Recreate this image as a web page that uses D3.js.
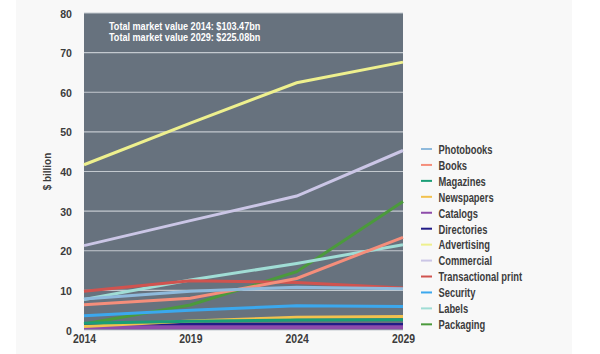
<!DOCTYPE html>
<html>
<head>
<meta charset="utf-8">
<script src="https://cdn.jsdelivr.net/npm/d3@7"></script>
<style>
  body { margin: 0; background: #ffffff; }
  svg text { font-family: "Liberation Sans", Arial, sans-serif; font-weight: 700; }
</style>
</head>
<body>
<div id="chart"></div>
<script>
// data ($ billion)
var years = [2014, 2019, 2024, 2029];
var y_ticks = [0, 10, 20, 30, 40, 50, 60, 70, 80];

var photobooks = [7.8, 9.8, 10.8, 10.4];
var books = [6.4, 8.0, 13.0, 23.4];
var magazines = [1.7, 2.2, 2.5, 2.6];
var newspapers = [0.9, 2.3, 3.2, 3.4];
var catalogs = [0.7, 0.7, 0.7, 0.7];
var directories = [1.1, 1.4, 1.4, 1.4];
var advertising = [41.7, 52.2, 62.4, 67.6];
var commercial = [21.3, 27.6, 33.8, 45.3];
var transactional = [9.8, 12.4, 12.0, 10.6];
var security = [3.6, 5.0, 6.1, 5.9];
var labels = [7.7, 12.6, 16.8, 21.5];
var packaging = [1.5, 6.3, 14.7, 32.4];

var series_names = ["Photobooks", "Books", "Magazines", "Newspapers", "Catalogs", "Directories",
  "Advertising", "Commercial", "Transactional print", "Security", "Labels", "Packaging"];
var series_values = [photobooks, books, magazines, newspapers, catalogs, directories,
  advertising, commercial, transactional, security, labels, packaging];
var series_colors = ["#8fbadc", "#f58e7b", "#1b9e77", "#f2c14e", "#8e4caa", "#211b86",
  "#eef08e", "#cbc6e6", "#d0534f", "#3ba8ee", "#a0ddd5", "#4b9a3c"];

var notes = ["Total market value 2014: $103.47bn", "Total market value 2029: $225.08bn"];

var total_width = 600, total_height = 354;
var margin = {top: 13, right: 197, bottom: 24, left: 84},
    width = total_width - margin.left - margin.right,
    height = total_height - margin.top - margin.bottom;

var text_color = "#3c3c3c";

// squeeze a text horizontally round its own x, to mimic a condensed face
function condense(sel, k) {
  sel.each(function() {
    var t = d3.select(this);
    var tx = +t.attr("x") || 0, ty = +t.attr("y") || 0;
    t.attr("x", 0).attr("y", 0)
     .attr("transform", "translate(" + tx + "," + ty + ") scale(" + k + ",1)");
  });
}

var svg = d3.select("#chart").append("svg")
    .attr("width", total_width)
    .attr("height", total_height);

// light panel behind everything
svg.append("rect")
    .attr("x", 16).attr("y", 0)
    .attr("width", 556).attr("height", total_height)
    .attr("fill", "#f8f8f8");

var g = svg.append("g")
    .attr("transform", "translate(" + margin.left + "," + margin.top + ")");

var x = d3.scaleLinear().domain([2014, 2029]).range([0, width]);
var y = d3.scaleLinear().domain([0, 80]).range([height, 0]);

g.append("rect")
    .attr("width", width).attr("height", height)
    .attr("fill", "#67727e");

// grid lines
g.selectAll(".grid")
  .data(y_ticks)
  .enter().append("line")
    .attr("x1", 0).attr("x2", width)
    .attr("y1", function(d) { return y(d); })
    .attr("y2", function(d) { return y(d); })
    .attr("stroke", "#c3c9cf")
    .attr("stroke-width", 1.2);

// y axis
var yAxis = g.append("g")
    .call(d3.axisLeft(y).tickValues(y_ticks).tickSize(0).tickPadding(12));
yAxis.select(".domain").remove();
yAxis.selectAll("text")
    .attr("fill", text_color)
    .attr("font-weight", "bold")
    .style("font-size", "11.5px")
    .attr("y", 4)
    .attr("dy", null)
    .call(condense, 0.92);

// x axis
var xAxis = g.append("g")
    .attr("transform", "translate(0," + height + ")")
    .call(d3.axisBottom(x).tickValues(years).tickFormat(d3.format("d")).tickSize(0));
xAxis.select(".domain").remove();
xAxis.selectAll("text")
    .attr("fill", text_color)
    .attr("font-weight", "bold")
    .style("font-size", "12px")
    .attr("y", 13)
    .attr("dy", null)
    .call(condense, 0.87);

svg.append("text")
    .attr("transform", "translate(51," + (margin.top + y(40)) + ") rotate(-90) scale(0.9,1)")
    .attr("text-anchor", "middle")
    .attr("fill", text_color)
    .style("font-size", "11px")
    .text("$ billion");

// lines, legend order reversed so Photobooks sits on top
var line = d3.line()
    .x(function(d, i) { return x(years[i]); })
    .y(function(d) { return y(d); });

for (var i = series_values.length - 1; i >= 0; i -= 1) {
  g.append("path")
      .datum(series_values[i])
      .attr("fill", "none")
      .attr("stroke", series_colors[i])
      .attr("stroke-width", i == 4 ? 4 : 3)
      .attr("d", line);
}

// notes
g.selectAll(".note")
  .data(notes)
  .enter().append("text")
    .attr("x", 25)
    .attr("y", function(d, i) { return 17 + i * 11.3; })
    .attr("fill", "#ffffff")
    .style("font-size", "11.5px")
    .text(function(d) { return d; })
    .call(condense, 0.79);

// legend
var legend = svg.append("g")
    .attr("transform", "translate(421,149)");

var rows = legend.selectAll(".row")
  .data(series_names)
  .enter().append("g")
    .attr("transform", function(d, i) { return "translate(0," + (i * 15.94) + ")"; });

rows.append("line")
    .attr("x1", 0).attr("x2", 11)
    .attr("stroke", function(d, i) { return series_colors[i]; })
    .attr("stroke-width", 2);

rows.append("text")
    .attr("x", 17.5)
    .attr("y", 4.8)
    .attr("fill", text_color)
    .style("font-size", "13px")
    .text(function(d) { return d; })
    .call(condense, 0.72);
</script>
</body>
</html>
